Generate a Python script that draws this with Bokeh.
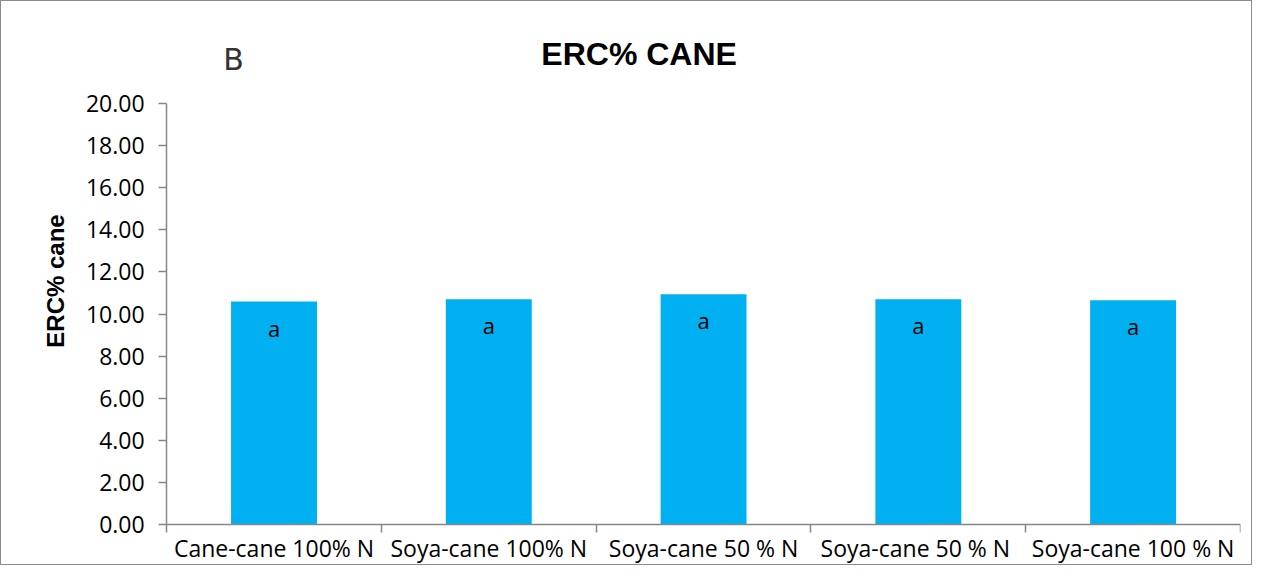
import math
from bokeh.plotting import figure
from bokeh.models import Range1d, FixedTicker, Label, ColumnDataSource, NumeralTickFormatter
from bokeh.core.properties import value
from bokeh.embed import file_html
from bokeh.resources import INLINE

categories = ["Cane-cane 100% N", "Soya-cane 100% N", "Soya-cane 50 % N",
              "Soya-cane  50 % N", "Soya-cane 100 % N"]
erc_values = [10.59, 10.70, 10.94, 10.70, 10.65]
letters = ["a", "a", "a", "a", "a"]
y_ticks = [0, 2, 4, 6, 8, 10, 12, 14, 16, 18, 20]
title_text = "ERC% CANE"
panel_letter = "B"
y_label = "ERC% cane"

positions = [i + 0.5 for i in range(len(categories))]
boundaries = list(range(len(categories) + 1))

src = ColumnDataSource(dict(x=positions, top=erc_values, lab=letters))

AX = "#868686"
TICK_FONT = "Open Sans"

# The frame covers the whole chart box; both axes are pinned at 0 and bounded,
# so the title, panel letter and axis title can sit inside the frame.
p = figure(width=1252, height=565, output_backend="svg", toolbar_location=None,
           x_range=Range1d(-0.7316, len(categories)), y_range=Range1d(-1.905, 23.143),
           min_border_left=8, min_border_right=13, min_border_top=36,
           min_border_bottom=2)
p.styles = {"border": "1.5px solid #8c8c8c"}
p.outline_line_color = None
p.xgrid.visible = False
p.ygrid.visible = False

p.vbar(x="x", top="top", width=0.4, bottom=0, source=src,
       fill_color="#00B0F0", line_color=None)
p.text(x="x", y="top", text="lab", source=src, y_offset=26,
       text_align="center", text_baseline="middle",
       text_font=value(TICK_FONT), text_font_size="22px", text_color="black")

xa = p.xaxis[0]
xa.fixed_location = 0
xa.bounds = (0, len(categories))
xa.ticker = FixedTicker(ticks=positions, minor_ticks=boundaries)
xa.major_label_overrides = {pos: cat for pos, cat in zip(positions, categories)}
xa.major_tick_line_color = None
xa.major_tick_out = 0
xa.major_tick_in = 0
xa.minor_tick_out = 8
xa.minor_tick_in = 0
xa.minor_tick_line_color = AX
xa.minor_tick_line_width = 1.5
xa.axis_line_color = AX
xa.axis_line_width = 1.5
xa.major_label_text_font = TICK_FONT
xa.major_label_text_font_size = "23px"
xa.major_label_text_color = "black"
xa.major_label_standoff = 0

ya = p.yaxis[0]
ya.fixed_location = 0
ya.bounds = (0, 20)
ya.ticker = FixedTicker(ticks=y_ticks)
ya.formatter = NumeralTickFormatter(format="0.00")
ya.major_tick_out = 8
ya.major_tick_in = 0
ya.minor_tick_line_color = None
ya.major_tick_line_color = AX
ya.major_tick_line_width = 1.5
ya.axis_line_color = AX
ya.axis_line_width = 1.5
ya.major_label_text_font = TICK_FONT
ya.major_label_text_font_size = "23px"
ya.major_label_text_color = "black"
ya.major_label_standoff = 14

p.add_layout(Label(x=-0.517, y=11.57, text=y_label, angle=math.pi / 2,
                   text_align="center", text_baseline="middle",
                   text_font="Liberation Sans", text_font_style="bold",
                   text_font_size="24px", text_color="black"))
p.add_layout(Label(x=2.2, y=22.38, text=title_text,
                   text_align="center", text_baseline="middle",
                   text_font="Liberation Sans", text_font_style="bold",
                   text_font_size="32px", text_color="black"))
p.add_layout(Label(x=0.312, y=22.1, text=panel_letter,
                   text_align="center", text_baseline="middle",
                   text_font="DejaVu Sans", text_font_style="normal",
                   text_font_size="30px", text_color="#333333"))

open("out.html", "w").write(file_html(p, INLINE))
